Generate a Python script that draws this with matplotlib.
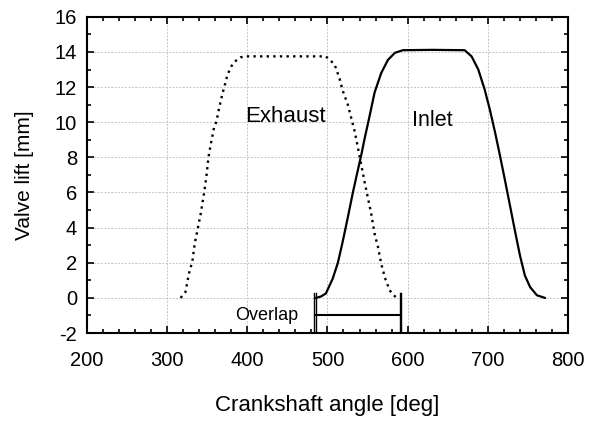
import matplotlib.pyplot as plt
from matplotlib.ticker import MultipleLocator

plt.rcParams["font.family"] = ["Liberation Sans", "DejaVu Sans"]
plt.rcParams["axes.unicode_minus"] = False

# Exhaust valve lift (dotted)
exh_angle = [317, 323, 327.5, 331.7, 334.6, 338, 342, 346, 349, 351.7, 354.6,
             358.7, 361.7, 365, 369, 372, 375.4, 380.4, 385.8, 392, 398, 450,
             498, 508.8, 515, 519, 525.4, 529.6, 533.8, 538, 542, 546, 550.4,
             554.6, 558.8, 563, 567, 572, 577.5, 585.8]
exh_lift = [0.0, 0.33, 1.4, 2.1, 3.1, 3.85, 4.78, 5.9, 6.86, 8.0, 8.75,
            9.7, 10.05, 10.8, 11.6, 12.1, 12.7, 13.2, 13.5, 13.7, 13.75, 13.75,
            13.75, 13.3, 12.5, 11.8, 11.0, 10.25, 9.5, 8.55, 7.6, 6.66, 5.7,
            4.78, 3.64, 2.9, 1.94, 1.1, 0.43, 0.0]

# Inlet valve lift (solid)
inl_angle = [485.8, 492, 498, 506.6, 513, 519, 525, 531.7, 538, 542, 546,
             552.5, 558.8, 567, 575.4, 584, 594, 630, 671, 679.6, 688, 696,
             702.5, 709, 715, 721, 727.5, 734, 740, 746, 752.5, 761, 771]
inl_lift = [0.0, 0.08, 0.25, 1.1, 2.0, 3.2, 4.5, 6.0, 7.3, 8.1, 9.0,
            10.35, 11.7, 12.8, 13.55, 13.95, 14.1, 14.12, 14.1, 13.75, 13.0, 11.85,
            10.7, 9.4, 8.1, 6.75, 5.25, 3.74, 2.4, 1.28, 0.62, 0.15, 0.0]

overlap_start = 485
overlap_end = 591

fig = plt.figure(figsize=(5.9, 4.21), dpi=100)
ax = fig.add_axes([0.147, 0.209, 0.816, 0.751])

ax.plot(exh_angle, exh_lift, color="black", linestyle=(0, (1, 1.8)), lw=1.7)
ax.plot(inl_angle, inl_lift, color="black", linestyle="-", lw=1.6,
        solid_joinstyle="round")

# overlap bracket
for x in (overlap_start, overlap_end):
    ax.plot([x - 1.2, x - 1.2], [-2, 0.3], color="black", lw=1)
    ax.plot([x + 1.2, x + 1.2], [-2, 0.3], color="black", lw=1)
ax.plot([overlap_start, overlap_end], [-1, -1], color="black", lw=1.5)
ax.text(463, -1, "Overlap", ha="right", va="center", fontsize=13)

ax.text(448, 10.3, "Exhaust", ha="center", va="center", fontsize=16)
ax.text(605, 10.1, "Inlet", ha="left", va="center", fontsize=15.5)

ax.set_xlim(200, 800)
ax.set_ylim(-2, 16)
ax.xaxis.set_major_locator(MultipleLocator(100))
ax.xaxis.set_minor_locator(MultipleLocator(20))
ax.yaxis.set_major_locator(MultipleLocator(2))
ax.yaxis.set_minor_locator(MultipleLocator(1))
ax.tick_params(which="both", direction="in", top=True, right=True,
               labelsize=14.5, width=1.2)
ax.tick_params(which="major", length=5)
ax.tick_params(axis="x", which="major", pad=13)
ax.tick_params(axis="y", which="major", pad=7)
ax.tick_params(which="minor", length=3)
ax.grid(True, which="major", linestyle=(0, (2, 1.5)), color="#c4c4c4", lw=0.7)
for s in ax.spines.values():
    s.set_linewidth(1.5)

ax.set_xlabel("Crankshaft angle [deg]", fontsize=16, labelpad=18)
ax.set_ylabel("Valve lift [mm]", fontsize=15, labelpad=15)

fig.savefig("out.png", dpi=100)
